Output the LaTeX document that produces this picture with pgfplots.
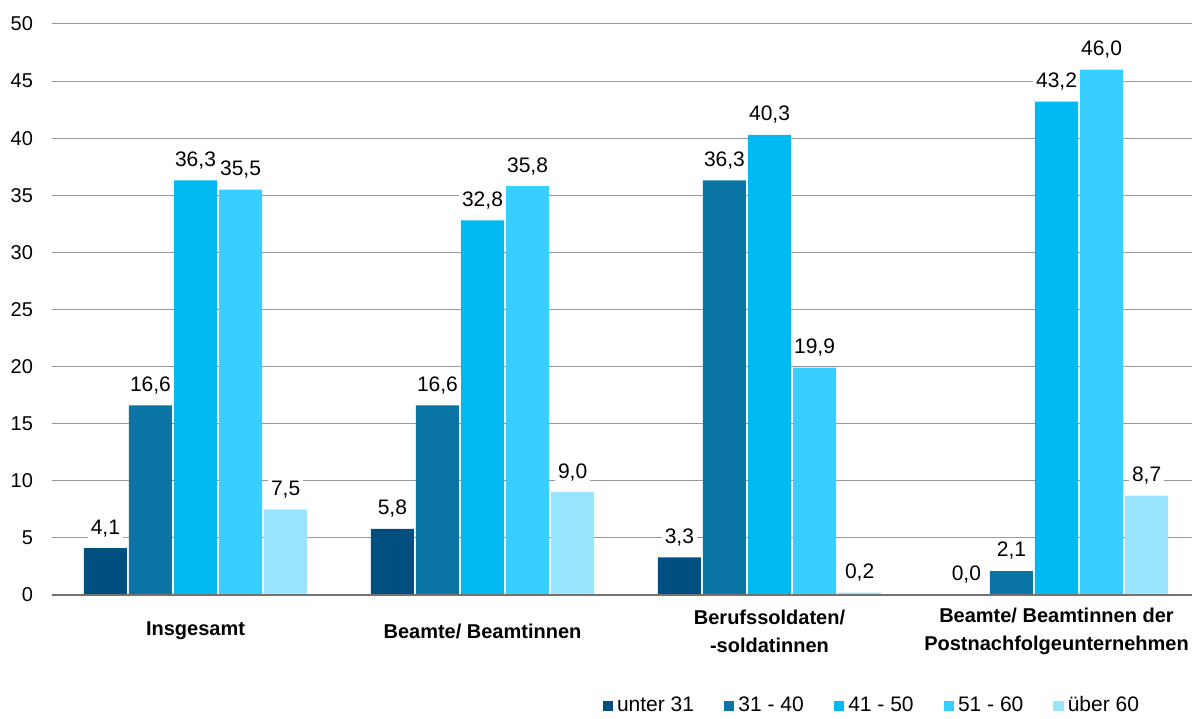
\documentclass[border=0pt]{standalone}
\usepackage{fontspec}
\setmainfont{Liberation Sans}
\usepackage{pgfplots}
\pgfplotsset{compat=1.18}
\usetikzlibrary{calc}
\definecolor{cA}{HTML}{004F80}
\definecolor{cB}{HTML}{0A74A4}
\definecolor{cC}{HTML}{00B9F1}
\definecolor{cD}{HTML}{38CEFF}
\definecolor{cE}{HTML}{99E5FF}
\begin{document}
\begin{tikzpicture}
\begin{axis}[
  name=ax,
  scale only axis,
  width=574pt, height=285.5pt,
  xmin=-0.5, xmax=3.5,
  ymin=0, ymax=50,
  ytick={0,5,...,50},
  xtick={0,1,2,3},
  xticklabels={Insgesamt,Beamte/ Beamtinnen,Berufssoldaten/\\-soldatinnen,Beamte/ Beamtinnen der\\Postnachfolgeunternehmen},
  xticklabel style={font=\fontsize{10}{14}\selectfont\bfseries, align=center, anchor=center, yshift=-18pt},
  yticklabel style={font=\fontsize{10}{12}\selectfont, xshift=-6pt},
  /pgf/number format/assume math mode=true,
  major tick length=0pt,
  axis line style={draw=none},
  ymajorgrids,
  grid style={draw=gray!80, line width=0.5pt},
  ybar, bar width=0.15,
  every axis plot/.append style={draw=none},
  nodes near coords,
  nodes near coords style={font=\fontsize{10.5}{12}\selectfont, fill=white, inner sep=1.5pt, yshift=4pt,
    /pgf/number format/.cd, fixed, fixed zerofill, precision=1, use comma, assume math mode=true},
  legend columns=5,
  legend style={draw=none, at={(0.715,-0.194)}, anchor=center, font=\fontsize{10.5}{12}\selectfont,
    /tikz/every even column/.append style={column sep=13pt}},
  legend image code/.code={\fill[#1] (0pt,-2.6pt) rectangle (5.2pt,2.6pt);},
  clip=false,
]
\addplot[fill=cA, bar shift=-0.314] coordinates {(0,4.1) (1,5.8) (2,3.3) (3,0.0)};
\addplot[fill=cB, bar shift=-0.157] coordinates {(0,16.6) (1,16.6) (2,36.3) (3,2.1)};
\addplot[fill=cC, bar shift=0] coordinates {(0,36.3) (1,32.8) (2,40.3) (3,43.2)};
\addplot[fill=cD, bar shift=0.157] coordinates {(0,35.5) (1,35.8) (2,19.9) (3,46.0)};
\addplot[fill=cE, bar shift=0.314] coordinates {(0,7.5) (1,9.0) (2,0.2) (3,8.7)};
\legend{unter 31,31 - 40,41 - 50,51 - 60,über 60}
\draw[gray!90!black, line width=1.2pt] (axis cs:-0.5,0) -- (axis cs:3.5,0);
\end{axis}
\pgfresetboundingbox
\useasboundingbox ($(ax.south west)+(-26pt,-61.5pt)$) rectangle ($(ax.north east)+(-4pt,12pt)$);
\end{tikzpicture}
\end{document}
